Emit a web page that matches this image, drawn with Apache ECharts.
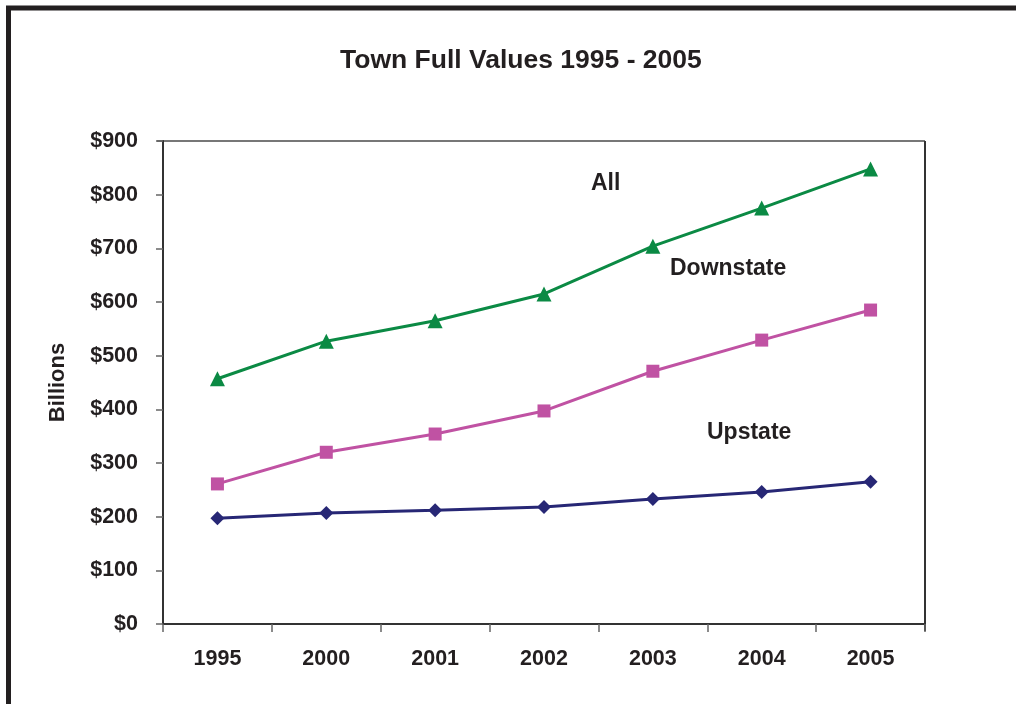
<!DOCTYPE html>
<html>
<head>
<meta charset="utf-8">
<script src="https://cdn.jsdelivr.net/npm/echarts@6/dist/echarts.min.js"></script>
<style>
  html, body { margin: 0; padding: 0; background: #fff; }
  #chart { width: 1016px; height: 704px; }
</style>
</head>
<body>
<div id="chart"></div>
<script>
// Town full values, in billions of dollars
const years = ['1995', '2000', '2001', '2002', '2003', '2004', '2005'];
const allValues = [457, 527, 565, 615, 704, 775, 848];
const downstateValues = [261, 320, 354, 397, 471, 529, 585];
const upstateValues = [197, 207, 212, 218, 233, 246, 265];
const seriesNames = ['All', 'Downstate', 'Upstate'];

const FONT = '"Liberation Sans", Arial, sans-serif';
const chart = echarts.init(document.getElementById('chart'));

chart.setOption({
  backgroundColor: '#fff',
  animation: false,
  title: {
    text: 'Town Full Values 1995 - 2005',
    left: 335,
    top: 42,
    textStyle: { fontFamily: FONT, fontSize: 26.5, fontWeight: 'bold', color: '#231f20' }
  },
  grid: { left: 163, top: 141, width: 762, height: 483 },
  xAxis: {
    type: 'category',
    data: years,
    boundaryGap: true,
    axisLine: { lineStyle: { color: '#333', width: 2 } },
    axisTick: { show: true, inside: false, length: 8, lineStyle: { color: '#666', width: 1.5 } },
    axisLabel: { fontFamily: FONT, fontSize: 21.5, fontWeight: 'bold', color: '#231f20', margin: 24 },
    splitLine: { show: false }
  },
  yAxis: {
    type: 'value',
    min: 0,
    max: 900,
    interval: 100,
    name: 'Billions',
    nameLocation: 'middle',
    nameGap: 94,
    nameRotate: 90,
    nameTextStyle: { fontFamily: FONT, fontSize: 22, fontWeight: 'bold', color: '#231f20' },
    axisLine: { show: true, lineStyle: { color: '#333', width: 2 } },
    axisTick: { show: true, inside: false, length: 7, lineStyle: { color: '#666', width: 1.5 } },
    axisLabel: {
      fontFamily: FONT, fontSize: 21.5, fontWeight: 'bold', color: '#231f20', margin: 25,
      formatter: v => '$' + v
    },
    splitLine: { show: false }
  },
  series: [
    {
      name: seriesNames[0], type: 'line', data: allValues,
      symbol: 'triangle', symbolSize: 15,
      lineStyle: { color: '#0b8a44', width: 3 },
      itemStyle: { color: '#0b8a44' }
    },
    {
      name: seriesNames[1], type: 'line', data: downstateValues,
      symbol: 'rect', symbolSize: 13,
      lineStyle: { color: '#c052a3', width: 3 },
      itemStyle: { color: '#c052a3' }
    },
    {
      name: seriesNames[2], type: 'line', data: upstateValues,
      symbol: 'diamond', symbolSize: 14,
      lineStyle: { color: '#272775', width: 3 },
      itemStyle: { color: '#272775' }
    }
  ],
  graphic: [
    // outer frame
    {
      type: 'rect', silent: true,
      shape: { x: 8.5, y: 8, width: 1100, height: 800 },
      style: { fill: 'none', stroke: '#231f20', lineWidth: 5 }
    },
    // plot area border (top gray, right dark)
    {
      type: 'line', silent: true,
      shape: { x1: 157, y1: 141, x2: 925, y2: 141 },
      style: { stroke: '#777', lineWidth: 2 }
    },
    {
      type: 'line', silent: true,
      shape: { x1: 925, y1: 141, x2: 925, y2: 631 },
      style: { stroke: '#333', lineWidth: 2 }
    },
    // series labels
    {
      type: 'text', silent: true, left: 591, top: 172,
      style: { text: seriesNames[0], font: 'bold 23px ' + FONT, fill: '#231f20' }
    },
    {
      type: 'text', silent: true, left: 670, top: 257,
      style: { text: seriesNames[1], font: 'bold 23px ' + FONT, fill: '#231f20' }
    },
    {
      type: 'text', silent: true, left: 707, top: 421,
      style: { text: seriesNames[2], font: 'bold 23px ' + FONT, fill: '#231f20' }
    }
  ]
});
</script>
</body>
</html>
